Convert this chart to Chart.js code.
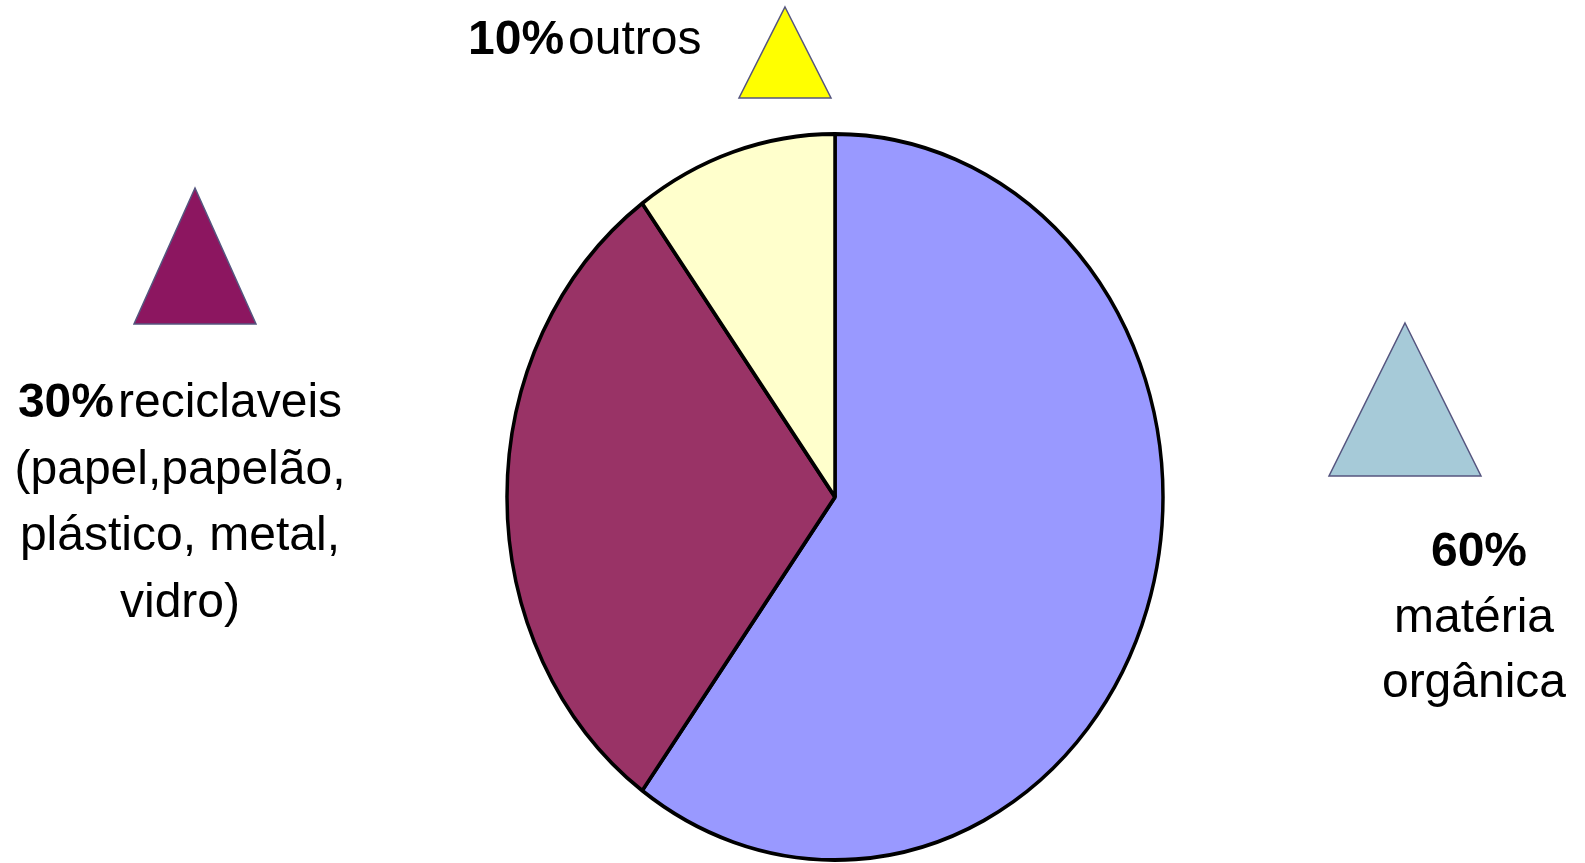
<!DOCTYPE html>
<html><head><meta charset="utf-8">
<script src="https://cdn.jsdelivr.net/npm/chart.js@4/dist/chart.umd.min.js"></script>
<style>
html,body{margin:0;padding:0;background:#fff;}
#wrap{position:relative;width:1585px;height:863px;overflow:hidden;}
canvas{position:absolute;left:0;top:0;}
.lbl{position:absolute;font-family:"Liberation Sans",Arial,sans-serif;font-size:48px;color:#000;white-space:nowrap;}
.lbl b{font-weight:bold;}
</style></head>
<body>
<div id="wrap">
<canvas id="c" width="1585" height="863"></canvas>
<div class="lbl" id="lTop" style="left:468px;top:11px;line-height:54px;"><b>10%</b>&#8202;outros</div>
<div class="lbl" id="lLeft" style="left:0px;width:360px;text-align:center;top:368px;line-height:66.5px;"><b>30%</b>&#8202;reciclaveis<br>(papel,papelão,<br>plástico, metal,<br>vidro)</div>
<div class="lbl" id="lRight" style="left:1374px;width:200px;text-align:center;top:517px;line-height:65.5px;"><b style="position:relative;left:5px;">60%</b><br>matéria<br>orgânica</div>
</div>
<script>
const categories = ['matéria orgânica', 'reciclaveis', 'outros'];
const values = [60, 30, 10];
const sliceColors = ['#9999FF', '#993366', '#FFFFCC'];
const markerColors = ['#A6CAD8', '#8C1660', '#FFFF00'];

const RX = 328, RY = 363;
const ellipse = {
  id: 'ellipse',
  beforeDatasetsDraw(chart) {
    const a = chart.getDatasetMeta(0).data[0];
    const ctx = chart.ctx;
    ctx.save();
    ctx.translate(a.x, a.y);
    ctx.scale(1, RY / RX);
    ctx.translate(-a.x, -a.y);
  },
  afterDatasetsDraw(chart) { chart.ctx.restore(); }
};
// legend-like triangle markers (apex x, apex y, base y, base left, base right)
const markerGeom = [
  [1405, 323, 476, 1329, 1481],
  [195, 188, 324, 134, 256],
  [785, 7, 98, 739, 831]
];
const markers = {
  id: 'markers',
  afterDraw(chart) {
    const ctx = chart.ctx;
    ctx.save();
    markerGeom.forEach((g, i) => {
      ctx.beginPath();
      ctx.moveTo(g[0], g[1]);
      ctx.lineTo(g[4], g[2]);
      ctx.lineTo(g[3], g[2]);
      ctx.closePath();
      ctx.fillStyle = markerColors[i];
      ctx.fill();
      ctx.lineWidth = 1.5;
      ctx.strokeStyle = '#55557F';
      ctx.stroke();
    });
    ctx.restore();
  }
};

new Chart(document.getElementById('c'), {
  type: 'pie',
  data: {
    labels: categories,
    datasets: [{
      data: values,
      backgroundColor: sliceColors,
      borderColor: '#000000',
      borderWidth: 3.5,
      radius: RX
    }]
  },
  options: {
    responsive: false,
    animation: false,
    layout: { padding: { left: 85, right: 0, top: 131, bottom: 0 } },
    plugins: { legend: { display: false }, tooltip: { enabled: false } }
  },
  plugins: [ellipse, markers]
});
</script>
</body></html>
